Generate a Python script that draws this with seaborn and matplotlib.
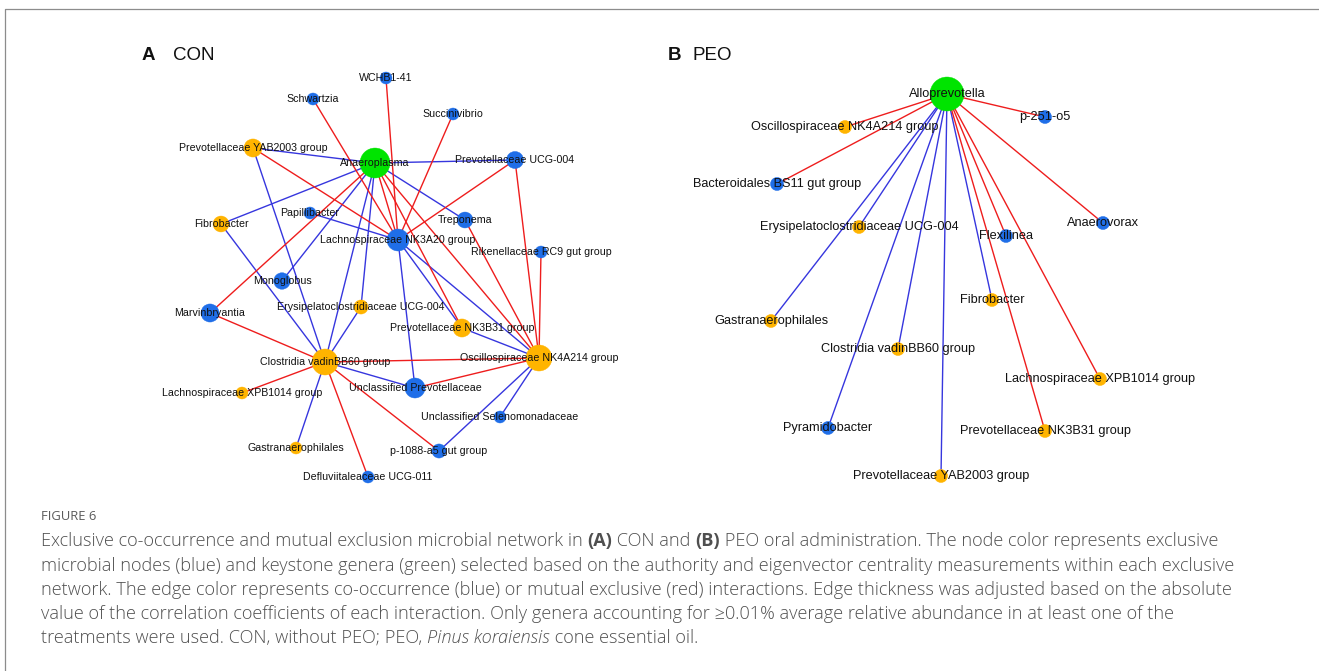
import matplotlib
matplotlib.use("Agg")
import matplotlib.pyplot as plt
import pandas as pd
import seaborn as sns
from matplotlib.collections import LineCollection

W, H = 1319, 671

# ---------------- CON network ----------------
con_genera = [
    "Anaeroplasma", "WCHB1-41", "Schwartzia", "Succinivibrio",
    "Prevotellaceae YAB2003 group", "Prevotellaceae UCG-004", "Papillibacter",
    "Treponema", "Fibrobacter", "Lachnospiraceae NK3A20 group",
    "Rikenellaceae RC9 gut group", "Monoglobus", "Marvinbryantia",
    "Erysipelatoclostridiaceae UCG-004", "Prevotellaceae NK3B31 group",
    "Oscillospiraceae NK4A214 group", "Clostridia vadinBB60 group",
    "Unclassified Prevotellaceae", "Lachnospiraceae XPB1014 group",
    "Unclassified Selenomonadaceae", "p-1088-a5 gut group",
    "Gastranaerophilales", "Defluviitaleaceae UCG-011",
]
con_layout_x = [375, 386, 313, 453, 253, 515, 310, 465, 221, 398, 541, 282, 210,
                361, 462, 539, 325, 415, 242, 500, 439, 296, 368]
con_layout_y = [163, 78, 99, 114, 148, 160, 213, 220, 224, 240, 252, 281, 313,
                307, 328, 358, 362, 388, 393, 417, 451, 448, 477]
con_role = ["keystone", "exclusive", "exclusive", "exclusive", "shared", "exclusive",
            "exclusive", "exclusive", "shared", "exclusive", "exclusive", "exclusive",
            "exclusive", "shared", "shared", "shared", "shared", "exclusive", "shared",
            "exclusive", "exclusive", "shared", "exclusive"]
con_centrality = [9.2, 1.0, 1.0, 1.0, 3.0, 2.6, 1.0, 2.2, 2.2, 4.7, 1.0, 2.4, 3.0,
                  1.6, 3.0, 6.8, 6.8, 3.8, 1.0, 1.0, 1.6, 1.0, 1.0]

con_cooccurrence = [
    ("Anaeroplasma", "Prevotellaceae YAB2003 group"),
    ("Anaeroplasma", "Prevotellaceae UCG-004"),
    ("Anaeroplasma", "Fibrobacter"),
    ("Anaeroplasma", "Monoglobus"),
    ("Anaeroplasma", "Clostridia vadinBB60 group"),
    ("Anaeroplasma", "Erysipelatoclostridiaceae UCG-004"),
    ("Anaeroplasma", "Treponema"),
    ("Prevotellaceae YAB2003 group", "Clostridia vadinBB60 group"),
    ("Fibrobacter", "Clostridia vadinBB60 group"),
    ("Papillibacter", "Lachnospiraceae NK3A20 group"),
    ("Lachnospiraceae NK3A20 group", "Unclassified Prevotellaceae"),
    ("Lachnospiraceae NK3A20 group", "Prevotellaceae NK3B31 group"),
    ("Lachnospiraceae NK3A20 group", "Oscillospiraceae NK4A214 group"),
    ("Prevotellaceae NK3B31 group", "Oscillospiraceae NK4A214 group"),
    ("Clostridia vadinBB60 group", "Erysipelatoclostridiaceae UCG-004"),
    ("Clostridia vadinBB60 group", "Unclassified Prevotellaceae"),
    ("Clostridia vadinBB60 group", "Gastranaerophilales"),
    ("Oscillospiraceae NK4A214 group", "Unclassified Selenomonadaceae"),
    ("Oscillospiraceae NK4A214 group", "p-1088-a5 gut group"),
]
con_exclusion = [
    ("WCHB1-41", "Lachnospiraceae NK3A20 group"),
    ("Schwartzia", "Lachnospiraceae NK3A20 group"),
    ("Succinivibrio", "Lachnospiraceae NK3A20 group"),
    ("Prevotellaceae YAB2003 group", "Lachnospiraceae NK3A20 group"),
    ("Anaeroplasma", "Lachnospiraceae NK3A20 group"),
    ("Anaeroplasma", "Marvinbryantia"),
    ("Anaeroplasma", "Prevotellaceae NK3B31 group"),
    ("Anaeroplasma", "Oscillospiraceae NK4A214 group"),
    ("Lachnospiraceae NK3A20 group", "Prevotellaceae UCG-004"),
    ("Prevotellaceae UCG-004", "Oscillospiraceae NK4A214 group"),
    ("Treponema", "Oscillospiraceae NK4A214 group"),
    ("Rikenellaceae RC9 gut group", "Oscillospiraceae NK4A214 group"),
    ("Marvinbryantia", "Clostridia vadinBB60 group"),
    ("Lachnospiraceae XPB1014 group", "Clostridia vadinBB60 group"),
    ("Clostridia vadinBB60 group", "Defluviitaleaceae UCG-011"),
    ("Clostridia vadinBB60 group", "p-1088-a5 gut group"),
    ("Clostridia vadinBB60 group", "Oscillospiraceae NK4A214 group"),
    ("Unclassified Prevotellaceae", "Oscillospiraceae NK4A214 group"),
]

# ---------------- PEO network ----------------
peo_genera = [
    "Alloprevotella", "Oscillospiraceae NK4A214 group", "p-251-o5",
    "Bacteroidales BS11 gut group", "Erysipelatoclostridiaceae UCG-004",
    "Anaerovorax", "Flexilinea", "Fibrobacter", "Gastranaerophilales",
    "Clostridia vadinBB60 group", "Lachnospiraceae XPB1014 group",
    "Pyramidobacter", "Prevotellaceae NK3B31 group", "Prevotellaceae YAB2003 group",
]
peo_layout_x = [947, 845, 1045, 777, 859, 1103, 1006, 992, 771, 898, 1100, 828, 1045, 941]
peo_layout_y = [94, 127, 117, 184, 227, 223, 236, 300, 321, 349, 379, 428, 431, 476]
peo_role = ["keystone", "shared", "exclusive", "exclusive", "shared", "exclusive",
            "exclusive", "shared", "shared", "shared", "shared", "exclusive",
            "shared", "shared"]
peo_centrality = [12.0, 1.3, 1.3, 1.3, 1.3, 1.3, 1.3, 1.3, 1.3, 1.3, 1.3, 1.3, 1.3, 1.3]

peo_cooccurrence = [
    ("Alloprevotella", "Erysipelatoclostridiaceae UCG-004"),
    ("Alloprevotella", "Gastranaerophilales"),
    ("Alloprevotella", "Clostridia vadinBB60 group"),
    ("Alloprevotella", "Pyramidobacter"),
    ("Alloprevotella", "Prevotellaceae YAB2003 group"),
    ("Alloprevotella", "Fibrobacter"),
]
peo_exclusion = [
    ("Alloprevotella", "Oscillospiraceae NK4A214 group"),
    ("Alloprevotella", "Bacteroidales BS11 gut group"),
    ("Alloprevotella", "p-251-o5"),
    ("Alloprevotella", "Anaerovorax"),
    ("Alloprevotella", "Flexilinea"),
    ("Alloprevotella", "Lachnospiraceae XPB1014 group"),
    ("Alloprevotella", "Prevotellaceae NK3B31 group"),
]

caption_heading = "FIGURE 6"
caption_lines = [
    [("Exclusive co-occurrence and mutual exclusion microbial network in ", "normal", "normal"),
     ("(A)", "bold", "normal"), (" CON and ", "normal", "normal"),
     ("(B)", "bold", "normal"),
     (" PEO oral administration. The node color represents exclusive", "normal", "normal")],
    [("microbial nodes (blue) and keystone genera (green) selected based on the authority "
      "and eigenvector centrality measurements within each exclusive", "normal", "normal")],
    [("network. The edge color represents co-occurrence (blue) or mutual exclusive (red) "
      "interactions. Edge thickness was adjusted based on the absolute", "normal", "normal")],
    [("value of the correlation coefficients of each interaction. Only genera accounting for "
      "\u22650.01% average relative abundance in at least one of the", "normal", "normal")],
    [("treatments were used. CON, without PEO; PEO, ", "normal", "normal"),
     ("Pinus koraiensis", "normal", "italic"), (" cone essential oil.", "normal", "normal")],
]

# ---------------- styling ----------------
ROLE_COLORS = {"keystone": "#00E400", "exclusive": "#1F6EE8", "shared": "#FFB400"}
CO_COLOR = "#3636DE"
EX_COLOR = "#EE1D1D"
LABEL_FONT = ["Liberation Sans", "DejaVu Sans"]
CAPTION_FONT = ["Open Sans", "DejaVu Sans"]
CAPTION_COLOR = "#4f4f4f"
CAPTION_WEIGHT = 300


def area_for_radius(r_px):
    return (2 * r_px * 0.72) ** 2


sns.set_theme(style="white")
plt.rcParams["font.family"] = LABEL_FONT

fig = plt.figure(figsize=(W / 100, H / 100), dpi=100)
ax = fig.add_axes([0, 0, 1, 1])
ax.set_xlim(0, W)
ax.set_ylim(H, 0)
ax.axis("off")


def draw_network(genera, xs, ys, roles, centrality, co_edges, ex_edges, label_size):
    nodes = pd.DataFrame({"genus": genera, "x": xs, "y": ys,
                          "role": roles, "centrality": centrality})
    pos = nodes.set_index("genus")[["x", "y"]]
    for edges, color in ((co_edges, CO_COLOR), (ex_edges, EX_COLOR)):
        segs = [[tuple(pos.loc[a]), tuple(pos.loc[b])] for a, b in edges]
        ax.add_collection(LineCollection(segs, colors=color, linewidths=1.0,
                                         zorder=1, capstyle="round"))
    sns.scatterplot(data=nodes, x="x", y="y", hue="role", palette=ROLE_COLORS,
                    size="centrality", sizes=(area_for_radius(6), area_for_radius(17)),
                    size_norm=(1, 12), legend=False, ax=ax, edgecolor="face",
                    linewidth=0.3, zorder=2)
    for _, row in nodes.iterrows():
        ax.text(row.x, row.y, row.genus, ha="center", va="center",
                fontsize=label_size, color="#111111", family=LABEL_FONT, zorder=3)


draw_network(con_genera, con_layout_x, con_layout_y, con_role, con_centrality,
             con_cooccurrence, con_exclusion, 7.7)
draw_network(peo_genera, peo_layout_x, peo_layout_y, peo_role, peo_centrality,
             peo_cooccurrence, peo_exclusion, 9.15)
ax.set_xlim(0, W)
ax.set_ylim(H, 0)
ax.set_xlabel("")
ax.set_ylabel("")

# panel titles
for px, letter, name in ((142, "A", "CON"), (668, "B", "PEO")):
    ax.text(px, 55, letter, fontsize=13.5, fontweight="bold", ha="left", va="center",
            family=LABEL_FONT, color="#111111")
    ax.text(px + (31 if letter == "A" else 24), 55, name, fontsize=13.5, ha="left",
            va="center", family=LABEL_FONT, color="#111111")

# figure frame
ax.plot([5, 5, W], [H, 9, 9], color="#8c8c8c", lw=0.9, solid_capstyle="butt",
        clip_on=False)

# caption
renderer = fig.canvas.get_renderer()


def run_width(text, weight, style, size):
    probe = ax.text(0, 0, "x" + text + "x", fontsize=size, fontweight=weight,
                    fontstyle=style, family=CAPTION_FONT)
    pad = ax.text(0, 0, "xx", fontsize=size, fontweight=weight,
                  fontstyle=style, family=CAPTION_FONT)
    w = (probe.get_window_extent(renderer).width
         - pad.get_window_extent(renderer).width)
    probe.remove()
    pad.remove()
    return w


ax.text(41, 517, caption_heading, fontsize=9.4, color="#5a5a5a",
        family=CAPTION_FONT, ha="left", va="center")
cap_size = 13.1
line_y = [541, 566, 590, 614, 638]
for yy, runs in zip(line_y, caption_lines):
    x = 41
    for text, weight, style in runs:
        w_used = CAPTION_WEIGHT if weight == "normal" else "bold"
        ax.text(x, yy, text, fontsize=cap_size, fontweight=w_used, fontstyle=style,
                family=CAPTION_FONT, color=CAPTION_COLOR, ha="left", va="center")
        x += run_width(text, w_used, style, cap_size)

fig.savefig("out.png", dpi=100, facecolor="white")
